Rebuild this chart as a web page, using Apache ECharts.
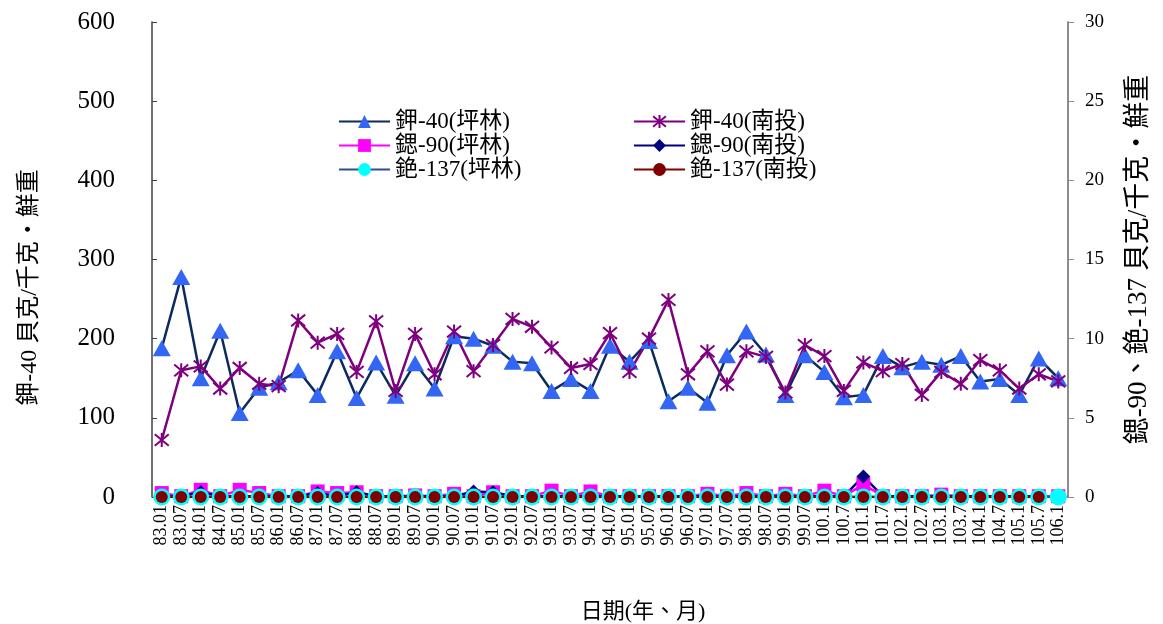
<!DOCTYPE html>
<html>
<head>
<meta charset="utf-8">
<script src="https://cdn.jsdelivr.net/npm/echarts@6/dist/echarts.min.js"></script>
<style>
  html, body { margin: 0; padding: 0; background: #fff; }
  #chart { width: 1163px; height: 624px; }
</style>
</head>
<body>
<div id="chart"></div>
<script>
// 採樣日期 (年.月)
const dates = ['83.01','83.07','84.01','84.07','85.01','85.07','86.01','86.07','87.01','87.07',
  '88.01','88.07','89.01','89.07','90.01','90.07','91.01','91.07','92.01','92.07',
  '93.01','93.07','94.01','94.07','95.01','95.07','96.01','96.07','97.01','97.07',
  '98.01','98.07','99.01','99.07','100.1','100.7','101.1','101.7','102.1','102.7',
  '103.1','103.7','104.1','104.7','105.1','105.7','106.1']

// 鉀-40 (左軸)
const k40Pinglin = [188,278,150,210,106,138,145,160,129,184,125,170,128,169,137,203,200,191,171,169,134,149,134,191,
  171,197,121,138,119,179,209,180,129,179,158,126,129,178,164,171,167,178,146,149,129,175,150]
const k40Nantou = [72,160,165,137,163,143,140,223,195,206,158,222,134,206,155,209,159,192,225,215,189,163,168,207,
  158,200,249,155,184,142,184,177,132,192,178,134,170,159,168,129,158,143,173,160,137,155,146]

// 鍶-90、銫-137 (右軸)
const sr90Pinglin = [0.25,0.05,0.45,0.05,0.45,0.25,0.05,0.05,0.35,0.25,0.3,0.05,0.05,0.1,0.05,0.2,0.05,0.3,0.05,0.05,
  0.4,0.05,0.35,0.05,0.05,0.05,0.05,0.05,0.2,0.05,0.25,0.05,0.2,0.05,0.4,0.05,0.8,0.05,0.05,0.05,
  0.15,0.05,0.05,0.05,0.05,0.05,0.05]
const sr90Nantou = [0.05,0.05,0.3,0.05,0.05,0.05,0.05,0.05,0.25,0.05,0.3,0.05,0.05,0.05,0.05,0.05,0.35,0.3,0.05,0.05,
  0.05,0.05,0.05,0.05,0.05,0.05,0.05,0.05,0.05,0.05,0.05,0.05,0.05,0.05,0.05,0.05,1.3,0.05,0.05,0.05,
  0.05,0.05,0.05,0.05,0.05,0.05,null]
const cs137Pinglin = [0,0,0,0,0,0,0,0,0,0,0,0,0,0,0,0,0,0,0,0,0,0,0,0,
  0,0,0,0,0,0,0,0,0,0,0,0,0,0,0,0,0,0,0,0,0,0,0]
const cs137Nantou = [0,0,0,0,0,0,0,0,0,0,0,0,0,0,0,0,0,0,0,0,0,0,0,0,
  0,0,0,0,0,0,0,0,0,0,0,0,0,0,0,0,0,0,0,0,0,0,null]

const leftTicks = { min: 0, max: 600, interval: 100 }
const rightTicks = { min: 0, max: 30, interval: 5 }

const serif = '"Liberation Serif", "Noto Sans CJK TC", serif'
const starPath = 'path://M0,0L10,10M10,0L0,10M5,-1L5,11'

const chart = echarts.init(document.getElementById('chart'))

const lineSeries = (name, data, yIdx, lineColor, symbol, size, fill, extra) => Object.assign({
  name: name,
  type: 'line',
  yAxisIndex: yIdx,
  data: data,
  symbol: symbol,
  symbolSize: size,
  showAllSymbol: true,
  animation: false,
  lineStyle: { color: lineColor, width: 2.5 },
  itemStyle: { color: fill, borderColor: fill, borderWidth: 0 },
  emphasis: { disabled: true }
}, extra || {})

const legendText = { fontFamily: serif, fontSize: 23, color: '#000' }

chart.setOption({
  backgroundColor: '#fff',
  textStyle: { fontFamily: serif },
  grid: { left: 152, right: 95, top: 22, bottom: 127, outerBoundsMode: 'none' },
  legend: [
    {
      data: ['鉀-40(坪林)', '鍶-90(坪林)', '銫-137(坪林)'],
      orient: 'vertical', left: 333, top: 105, itemGap: 1,
      itemWidth: 51, itemHeight: 16,
      textStyle: legendText
    },
    {
      data: ['鉀-40(南投)', '鍶-90(南投)', '銫-137(南投)'],
      orient: 'vertical', left: 628, top: 105, itemGap: 1,
      itemWidth: 51, itemHeight: 16,
      textStyle: legendText
    }
  ],
  xAxis: {
    type: 'category',
    data: dates,
    boundaryGap: true,
    name: '日期(年、月)',
    nameLocation: 'middle',
    nameGap: 104,
    nameTextStyle: { fontFamily: serif, fontSize: 22, color: '#000', padding: [0, 0, 0, 66] },
    axisLine: { lineStyle: { color: '#808080', width: 1.5 } },
    axisTick: { show: false },
    axisLabel: { interval: 0, rotate: 90, fontSize: 18, color: '#000', margin: 8, fontFamily: serif }
  },
  yAxis: [
    {
      type: 'value',
      min: leftTicks.min, max: leftTicks.max, interval: leftTicks.interval,
      name: '鉀-40 貝克/千克・鮮重',
      nameLocation: 'middle',
      nameGap: 110,
      nameRotate: 90,
      nameTextStyle: { fontFamily: serif, fontSize: 24, color: '#000', padding: [0, 56, 0, 0] },
      axisLine: { show: true, lineStyle: { color: '#404040', width: 1.5 } },
      axisTick: { show: true, inside: true, length: 5, lineStyle: { color: '#404040' } },
      axisLabel: { fontSize: 25, color: '#000', margin: 37, align: 'right', fontFamily: serif },
      splitLine: { show: false }
    },
    {
      type: 'value',
      position: 'right',
      min: rightTicks.min, max: rightTicks.max, interval: rightTicks.interval,
      name: '鍶-90、銫-137 貝克/千克・鮮重',
      nameLocation: 'middle',
      nameGap: 57,
      nameRotate: 90,
      nameTextStyle: { fontFamily: serif, fontSize: 27, color: '#000' },
      axisLine: { show: true, lineStyle: { color: '#8c8c8c', width: 2 } },
      axisTick: { show: true, length: 6, lineStyle: { color: '#8c8c8c' } },
      axisLabel: { fontSize: 19, color: '#000', margin: 17, fontFamily: serif },
      splitLine: { show: false }
    }
  ],
  series: [
    lineSeries('鉀-40(坪林)', k40Pinglin, 0, '#0B2A5E', 'triangle', [18, 16], '#3366F5'),
    lineSeries('鉀-40(南投)', k40Nantou, 0, '#7F007F', starPath, 14, '#7F007F',
      { itemStyle: { color: 'none', borderColor: '#7F007F', borderWidth: 2 } }),
    lineSeries('鍶-90(坪林)', sr90Pinglin, 1, '#FF00FF', 'rect', 14, '#FF00FF'),
    lineSeries('鍶-90(南投)', sr90Nantou, 1, '#000080', 'diamond', 14, '#000080'),
    lineSeries('銫-137(坪林)', cs137Pinglin, 1, '#2F4F8F', 'circle', 17, '#00FFFF'),
    lineSeries('銫-137(南投)', cs137Nantou, 1, '#800000', 'circle', 12, '#800000')
  ]
})
</script>
</body>
</html>
